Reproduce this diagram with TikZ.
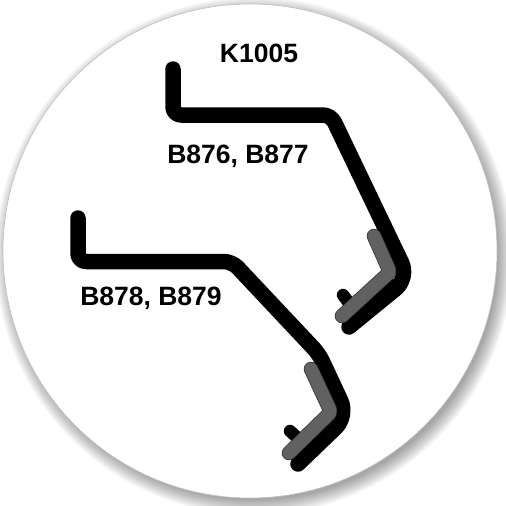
\documentclass[tikz,border=0pt]{standalone}
\usepackage{fontspec}
\setmainfont{Liberation Sans}
\tikzset{
  profile/.style={draw=black,line width=15.5pt,line cap=round,line join=round,rounded corners=8pt},
  stub/.style={draw=black,line width=12.5pt,line cap=round},
  clip strip/.style={draw=black!80,line width=14.5pt,line cap=round,line join=round,rounded corners=3pt},
  clip core/.style={draw=black!62,line width=13pt,line cap=round,line join=round,rounded corners=3pt},
  label text/.style={font=\fontsize{26.5}{29}\selectfont\bfseries,text=black,inner sep=0pt,anchor=center}
}
\begin{document}
\begin{tikzpicture}[x=1pt,y=-1pt]
\useasboundingbox (0,0) rectangle (506,506);
\fill[white] (0,0) rectangle (506,506);
% soft shadow
\foreach \r in {0,1,...,15}{
  \fill[black,opacity=0.022] (254,256) circle ({259-\r});
}
\fill[white] (250,251) circle (247);
\draw[black!25,line width=0.6pt] (250,251) circle (247);
% upper profile
\draw[stub] (343,295) -- (352,307);
\draw[profile] (173,69) -- (173,115) -- (331,115) [rounded corners=17pt] -- (409,278) -- (349,327);
\draw[stub] (392,285) -- (352,320);
\draw[clip strip] (374,236) -- (390,272) -- (342,316);
\draw[clip core] (374,236) -- (390,272) -- (342,316);
% lower profile
\draw[stub] (290,431) -- (301,441);
\draw[profile] (78,218) -- (78,261.5) -- (232,261.5) -- (319,354) [rounded corners=17pt] -- (348,416) -- (298,464);
\draw[clip strip] (311,369) -- (331,412) -- (289,453);
\draw[clip core] (311,369) -- (331,412) -- (289,453);
% labels
\node[label text] (k) at (259,53) {K1005};
\node[label text] (a) at (238,156) {B876, B877};
\node[label text] (b) at (151,298) {B878, B879};
\end{tikzpicture}
\end{document}
